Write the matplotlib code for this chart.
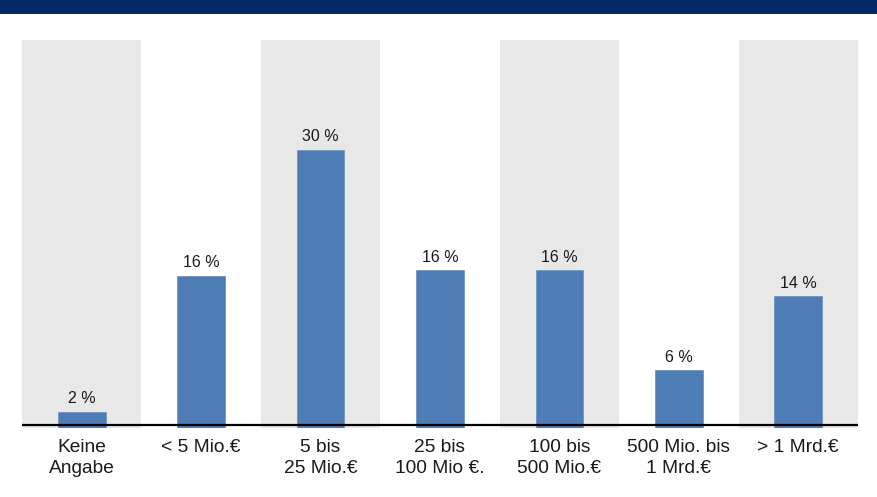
import matplotlib
matplotlib.use("Agg")
import matplotlib.pyplot as plt
from matplotlib.patches import Rectangle

plt.rcParams['font.family'] = ['Liberation Sans', 'DejaVu Sans']

categories = ["Keine\nAngabe", "< 5 Mio.€", "5 bis\n25 Mio.€", "25 bis\n100 Mio €.",
              "100 bis\n500 Mio.€", "500 Mio. bis\n1 Mrd.€", "> 1 Mrd.€"]
values = [1.7, 16.4, 30.0, 17.0, 17.0, 6.2, 14.2]
value_labels = ["2 %", "16 %", "30 %", "16 %", "16 %", "6 %", "14 %"]

W, H = 877, 497
fig = plt.figure(figsize=(W / 100, H / 100), dpi=100)

# top banner
fig.patches.append(Rectangle((0, 1 - 14 / H), 1, 14 / H, transform=fig.transFigure,
                             facecolor="#03296a", edgecolor="none", zorder=0))

left, right, top, bottom = 22, 858, 40, 427.5
ax = fig.add_axes([left / W, 1 - bottom / H, (right - left) / W, (bottom - top) / H])

n = len(categories)
for i in range(n):
    if i % 2 == 0:
        ax.axvspan(i - 0.5, i + 0.5, color="#e8e8e8", lw=0, zorder=0)

x = list(range(n))
ax.bar(x, values, width=0.4, color="#4e7cb4", edgecolor="#6f95c4", linewidth=0.6, zorder=2)

ax.set_xlim(-0.5, n - 0.5)
ax.set_ylim(0, 41.9)
ax.axhline(0.22, color="black", lw=1.6, zorder=3)

for xi, v, lab in zip(x, values, value_labels):
    ax.annotate(lab, xy=(xi, v), xytext=(0, 4.0), textcoords="offset points",
                ha="center", va="bottom", fontsize=11.5, color="#1a1a1a")

for xi, c in zip(x, categories):
    ax.annotate(c, xy=(xi, 0), xycoords=("data", "axes fraction"), xytext=(0, -8.5),
                textcoords="offset points", ha="center", va="top", fontsize=13.8,
                linespacing=1.3, color="#1a1a1a")

ax.set_xticks([])
ax.set_yticks([])
for s in ax.spines.values():
    s.set_visible(False)
ax.patch.set_alpha(0)

fig.savefig("out.png", dpi=100)
